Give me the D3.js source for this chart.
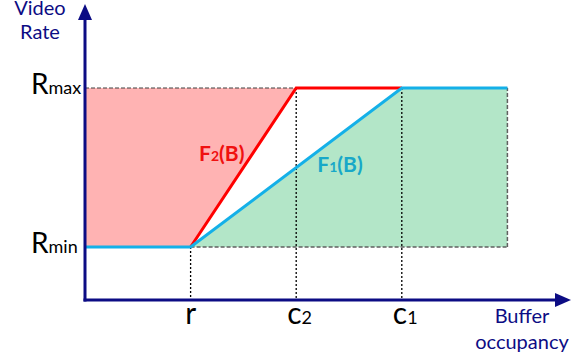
<!DOCTYPE html>
<html>
<head>
<meta charset="utf-8">
<script src="https://cdn.jsdelivr.net/npm/d3@7"></script>
<style>
  body { margin: 0; background: #fff; }
  text { font-family: Lato, "Open Sans", sans-serif; }
</style>
</head>
<body>
<div id="chart"></div>
<script>
'use strict';

// buffer positions: origin, r, c2, c1, end of shaded area
var xTickNames = ["r", "c", "c"];
var xTickSubs = ["", "2", "1"];
var xTickValues = [1, 2, 3];
var xEnd = 4;

// rate levels
var rMin = 1;
var rMax = 4;

var f1Points = [[0, 1], [1, 1], [3, 4], [4, 4]];
var f2Points = [[1, 1], [2, 4], [3, 4]];
var pinkArea = [[0, 4], [2, 4], [1, 1], [0, 1]];
var greenArea = [[1, 1], [3, 4], [4, 4], [4, 1]];

var width = 581, height = 360;
var originX = 85, originY = 300;

var x = d3.scaleLinear().domain([0, 1]).range([originX, originX + 105.6]);
var y = d3.scaleLinear().domain([0, 1]).range([originY, originY - 53]);

var svg = d3.select("#chart").append("svg")
    .attr("width", width)
    .attr("height", height);

var line = d3.line()
    .x(function (d) { return x(d[0]); })
    .y(function (d) { return y(d[1]); });

// shaded regions
svg.append("path")
    .attr("d", line(pinkArea) + "Z")
    .style("fill", "#ffb3b3");

svg.append("path")
    .attr("d", line(greenArea) + "Z")
    .style("fill", "#b3e6c8");

// dashed box
svg.append("line")
    .attr("x1", x(0)).attr("x2", x(xEnd))
    .attr("y1", y(rMax)).attr("y2", y(rMax))
    .style("stroke", "#404040")
    .style("stroke-width", 1.2)
    .style("stroke-dasharray", "4,2");

svg.append("line")
    .attr("x1", x(xTickValues[0])).attr("x2", x(xEnd))
    .attr("y1", y(rMin)).attr("y2", y(rMin))
    .style("stroke", "#606060")
    .style("stroke-width", 1.5)
    .style("stroke-dasharray", "4,2");

svg.append("line")
    .attr("x1", x(xEnd)).attr("x2", x(xEnd))
    .attr("y1", y(rMin)).attr("y2", y(rMax))
    .style("stroke", "#606060")
    .style("stroke-width", 1.5)
    .style("stroke-dasharray", "4,2");

// dotted drop lines
svg.selectAll(".drop")
    .data(xTickValues)
    .enter()
    .append("line")
    .attr("class", "drop")
    .attr("x1", function (d) { return x(d); })
    .attr("x2", function (d) { return x(d); })
    .attr("y1", function (d, i) { return y(i == 0 ? rMin : rMax); })
    .attr("y2", y(0))
    .style("stroke", "#000")
    .style("stroke-width", 1.3)
    .style("stroke-dasharray", "2,2");

// curves
svg.append("path")
    .attr("d", line(f2Points))
    .style("fill", "none")
    .style("stroke", "#ff0000")
    .style("stroke-width", 3);

svg.append("path")
    .attr("d", line(f1Points))
    .style("fill", "none")
    .style("stroke", "#14b0e8")
    .style("stroke-width", 3);

// axes with arrow heads
var axisColor = "#0c0c84";
svg.append("line")
    .attr("x1", originX).attr("x2", originX)
    .attr("y1", originY + 1.5).attr("y2", 18)
    .style("stroke", axisColor)
    .style("stroke-width", 3);
svg.append("path")
    .attr("d", "M" + originX + ",4L" + (originX - 7) + ",20L" + (originX + 7) + ",20Z")
    .style("fill", axisColor);

svg.append("line")
    .attr("x1", originX - 1.5).attr("x2", 557)
    .attr("y1", originY).attr("y2", originY)
    .style("stroke", axisColor)
    .style("stroke-width", 3);
svg.append("path")
    .attr("d", "M571," + originY + "L555," + (originY - 7) + "L555," + (originY + 7) + "Z")
    .style("fill", axisColor);

// axis titles
svg.append("text")
    .attr("x", 40).attr("y", 15)
    .attr("text-anchor", "middle")
    .style("font-size", "20px")
    .style("fill", axisColor)
    .text("Video");
svg.append("text")
    .attr("x", 40).attr("y", 39)
    .attr("text-anchor", "middle")
    .style("font-size", "20px")
    .style("fill", axisColor)
    .text("Rate");

svg.append("text")
    .attr("x", 522).attr("y", 323)
    .attr("text-anchor", "middle")
    .style("font-size", "20px")
    .style("fill", axisColor)
    .text("Buffer");
svg.append("text")
    .attr("x", 522).attr("y", 349)
    .attr("text-anchor", "middle")
    .style("font-size", "20px")
    .style("fill", axisColor)
    .text("occupancy");

// y labels
var yLabels = [{v: rMax, sub: "max"}, {v: rMin, sub: "min"}];
var yl = svg.selectAll(".ylab")
    .data(yLabels)
    .enter()
    .append("text")
    .attr("class", "ylab")
    .attr("x", 31)
    .attr("y", function (d) { return y(d.v) + 6; })
    .style("fill", "#000");
yl.append("tspan").style("font-size", "28px").text("R");
yl.append("tspan").style("font-size", "18px").text(function (d) { return d.sub; });

// x tick labels
var xl = svg.selectAll(".xlab")
    .data(xTickValues)
    .enter()
    .append("text")
    .attr("class", "xlab")
    .attr("x", function (d) { return x(d); })
    .attr("y", 324)
    .attr("text-anchor", function (d, i) { return i == 0 ? "middle" : "start"; })
    .attr("dx", function (d, i) { return i == 0 ? 0 : -9; })
    .style("fill", "#000");
xl.append("tspan").style("font-size", "30px").text(function (d, i) { return xTickNames[i]; });
xl.append("tspan").style("font-size", "18px").text(function (d, i) { return xTickSubs[i]; });

// curve labels
var fl = [{name: "F", sub: "2", x: 1.08, yv: 2.62, color: "#f01010"},
          {name: "F", sub: "1", x: 2.2, yv: 2.415, color: "#18a8c8"}];
var ft = svg.selectAll(".flab")
    .data(fl)
    .enter()
    .append("text")
    .attr("class", "flab")
    .attr("x", function (d) { return x(d.x); })
    .attr("y", function (d) { return y(d.yv); })
    .style("font-weight", "bold")
    .style("fill", function (d) { return d.color; });
ft.append("tspan").style("font-size", "21px").text(function (d) { return d.name; });
ft.append("tspan").style("font-size", "14px").text(function (d) { return d.sub; });
ft.append("tspan").style("font-size", "21px").text("(B)");
</script>
</body>
</html>
